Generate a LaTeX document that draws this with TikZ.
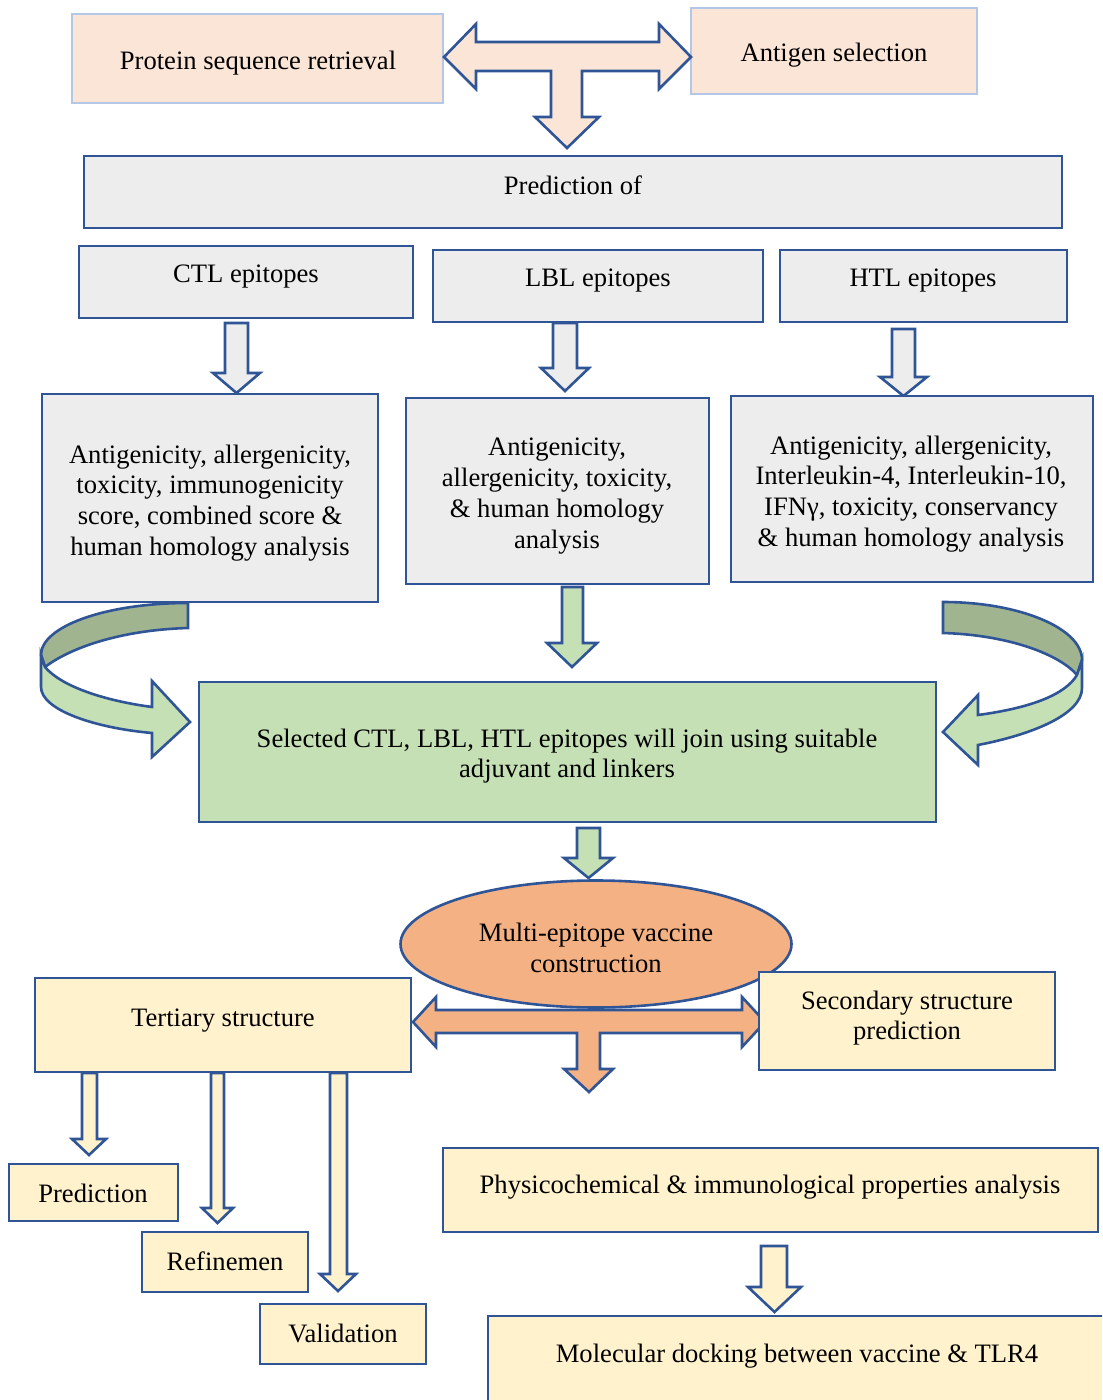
\documentclass[tikz,border=0pt]{standalone}
\usepackage{fontspec}
\setmainfont{Liberation Serif}
\usetikzlibrary{shapes.geometric}
\definecolor{peach}{HTML}{FBE5D6}
\definecolor{lblue}{HTML}{B4C7E7}
\definecolor{dblue}{HTML}{2F5597}
\definecolor{grayf}{HTML}{EDEDED}
\definecolor{greenf}{HTML}{C5E0B4}
\definecolor{dgreen}{HTML}{9FB48F}
\definecolor{orangef}{HTML}{F4B183}
\definecolor{yellowf}{HTML}{FFF2CC}
\tikzset{
  boxbase/.style={rectangle, inner sep=0pt, outer sep=0pt, line width=1.3pt},
  topbox/.style={boxbase, draw=lblue, fill=peach},
  graybox/.style={boxbase, draw=dblue, fill=grayf},
  greenbox/.style={boxbase, draw=dblue, fill=greenf},
  yellowbox/.style={boxbase, draw=dblue, fill=yellowf},
  txt/.style={font=\fontsize{13.3}{15.4}\selectfont, align=center, inner sep=0pt},
  lowered/.style={yshift=-1.5pt},
  blockarrow/.style={draw=dblue, line width=1.3pt, line join=miter},
}
\newcommand\bx[6]{\node[#1, minimum width={(#4-#2)*0.5pt}, minimum height={(#5-#3)*0.5pt}] (#6) at ({(#2+#4)/2},{(#3+#5)/2}) {};}
% fill, shaft left, shaft right, top, head y, head left, head right, tip y
\newcommand\downarr[8]{\draw[blockarrow, fill=#1] (#2,#4) -- (#3,#4) -- (#3,#5) -- (#7,#5) -- ({(#6+#7)/2},#8) -- (#6,#5) -- (#2,#5) -- cycle;}
\begin{document}
\begin{tikzpicture}[x=0.5pt,y=-0.5pt]
\useasboundingbox (0,0) rectangle (1102,1400);
\clip (0,0) rectangle (1102,1400);

% top row
\bx{topbox}{72}{14}{443}{103}{psr}
\bx{topbox}{691}{8}{977}{94}{ags}
\node[txt, lowered] (psrt) at (258,60) {Protein sequence retrieval};
\node[txt, lowered] (agst) at (834,52) {Antigen selection};

\draw[blockarrow, fill=peach] (444,57) -- (476,24) -- (476,42) -- (659,42) -- (659,24) -- (691,57) -- (659,89) -- (659,71) -- (582,71) -- (582,117) -- (599,117) -- (567,148) -- (535,117) -- (551,117) -- (551,71) -- (476,71) -- (476,89) -- cycle;

% prediction
\bx{graybox}{84}{156}{1062}{228}{pred}
\node[txt, lowered] (predt) at (573,182) {Prediction of};

\bx{graybox}{79}{246}{413}{318}{ctl}
\bx{graybox}{433}{250}{763}{322}{lbl}
\bx{graybox}{780}{250}{1067}{322}{htl}
\node[txt, lowered] (ctlt) at (246,274) {CTL epitopes};
\node[txt, lowered] (lblt) at (598,278) {LBL epitopes};
\node[txt, lowered] (htlt) at (923,278) {HTL epitopes};

\downarr{grayf}{225}{248}{323}{373}{213}{260}{393}
\downarr{grayf}{553}{577}{323}{368}{541}{589}{391}
\downarr{grayf}{892}{915}{329}{377}{880}{927}{396}

\bx{graybox}{42}{394}{378}{602}{ctlb}
\bx{graybox}{406}{398}{709}{584}{lblb}
\bx{graybox}{731}{396}{1093}{582}{htlb}
\node[txt, lowered] (ctlbt) at (210,500) {Antigenicity, allergenicity,\\toxicity, immunogenicity\\score, combined score \&\\human homology analysis};
\node[txt, lowered] (lblbt) at (557,493) {Antigenicity,\\allergenicity, toxicity,\\\& human homology\\analysis};
\node[txt, lowered] (htlbt) at (911,491) {Antigenicity, allergenicity,\\Interleukin-4, Interleukin-10,\\IFNγ, toxicity, conservancy\\\& human homology analysis};

% curved arrows
\draw[blockarrow, fill=dgreen] (188,603) .. controls (107,603) and (41,626) .. (41,655) -- (45,667) .. controls (70,648) and (120,630) .. (188,628) -- cycle;
\draw[blockarrow, fill=greenf] (41,655) -- (41,687) .. controls (41,710) and (95,728) .. (152,733) -- (152,757) -- (190,722) -- (152,681) -- (152,707) .. controls (100,700) and (60,685) .. (45,667) -- cycle;

\draw[blockarrow, fill=dgreen] (943,602) .. controls (1019,602) and (1082,628) .. (1082,660) -- (1077,675) .. controls (1060,655) and (1010,635) .. (943,633) -- cycle;
\draw[blockarrow, fill=greenf] (1082,660) -- (1082,688) .. controls (1082,715) and (1030,735) .. (978,745) -- (978,765) -- (943,732) -- (978,695) -- (978,715) .. controls (1030,708) and (1065,695) .. (1077,675) -- cycle;

\downarr{greenf}{562}{583}{587}{643}{547}{597}{667}

\bx{greenbox}{199}{682}{936}{822}{grn}
\node[txt, lowered] (grnt) at (567,753) {Selected CTL, LBL, HTL epitopes will join using suitable\\adjuvant and linkers};

\downarr{greenf}{577}{600}{828}{858}{564}{613}{878}

% ellipse
\node[ellipse, draw=dblue, fill=orangef, line width=1.3pt, inner sep=0pt, minimum width=195.5pt, minimum height=63.5pt, txt] (mev) at (596,944) {};
\node[txt, lowered] (mevt) at (596,945) {Multi-epitope vaccine\\construction};

\draw[blockarrow, fill=orangef] (413,1022) -- (436,997) -- (436,1010) -- (742,1010) -- (742,997) -- (765,1022) -- (742,1047) -- (742,1033) -- (600,1033) -- (600,1069) -- (613,1069) -- (589,1092) -- (564,1069) -- (577,1069) -- (577,1033) -- (436,1033) -- (436,1047) -- cycle;

\bx{yellowbox}{35}{978}{411}{1072}{tert}
\bx{yellowbox}{759}{972}{1055}{1070}{sec}
\node[txt, lowered] (tertt) at (223,1018) {Tertiary structure};
\node[txt, lowered] (sect) at (907,1015) {Secondary structure\\prediction};

\downarr{yellowf}{82}{97}{1073}{1139}{72}{106}{1155}
\downarr{yellowf}{211}{224}{1073}{1208}{202}{233}{1223}
\downarr{yellowf}{330}{347}{1073}{1274}{320}{356}{1291}

\bx{yellowbox}{9}{1164}{178}{1221}{p1}
\bx{yellowbox}{142}{1232}{308}{1292}{p2}
\bx{yellowbox}{260}{1304}{426}{1364}{p3}
\node[txt, lowered] (p1t) at (93,1190) {Prediction};
\node[txt, lowered] (p2t) at (225,1258) {Refinemen};
\node[txt, lowered] (p3t) at (343,1330) {Validation};

\bx{yellowbox}{443}{1148}{1098}{1232}{phys}
\node[txt, lowered] (physt) at (770,1184) {Physicochemical \& immunological properties analysis};

\downarr{yellowf}{761}{787}{1246}{1287}{748}{801}{1312}

\bx{yellowbox}{488}{1316}{1112}{1412}{mol}
\node[txt, lowered] (molt) at (797,1353) {Molecular docking between vaccine \& TLR4};
\end{tikzpicture}
\end{document}
